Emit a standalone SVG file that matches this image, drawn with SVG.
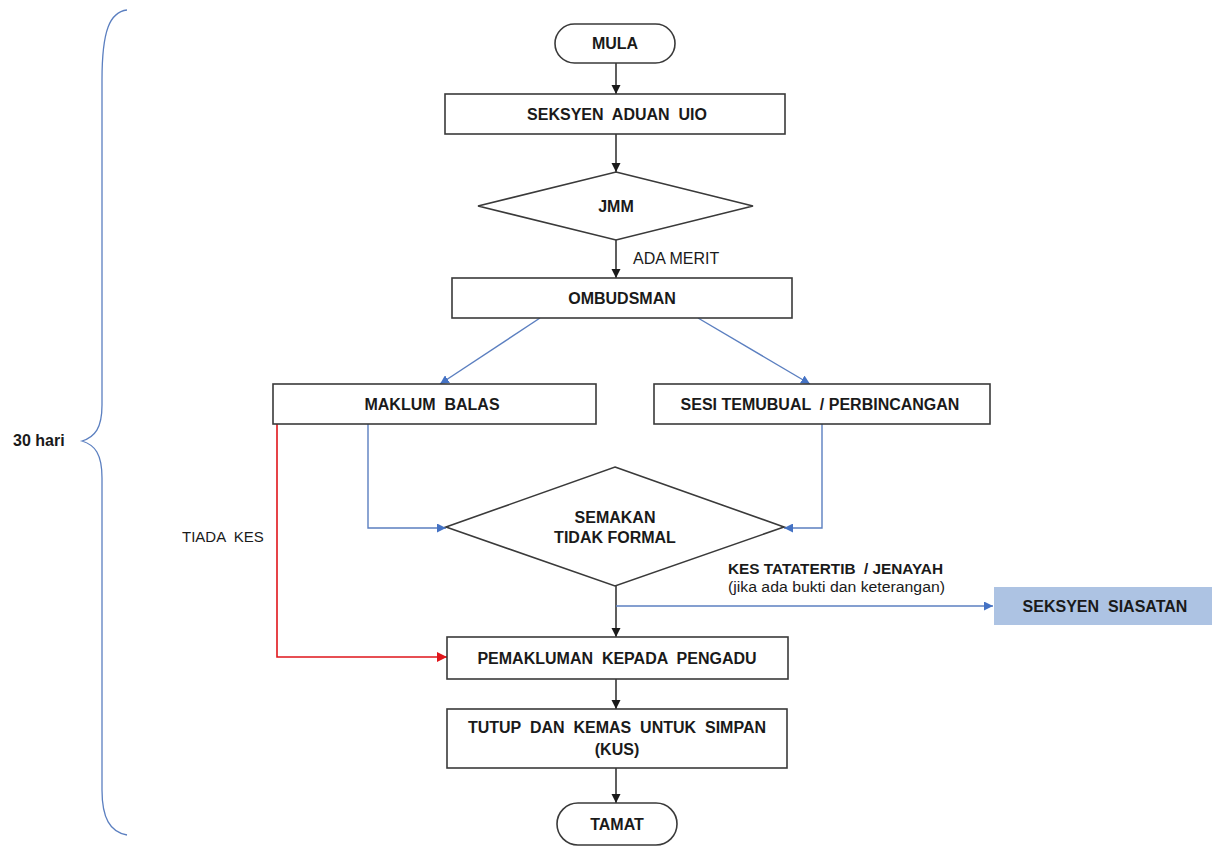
<svg xmlns="http://www.w3.org/2000/svg" width="1212" height="848" viewBox="0 0 1212 848">
<style>
.box{fill:#ffffff;stroke:#3a3a3a;stroke-width:1.6}
.t{font-family:"Liberation Sans",Arial,sans-serif;font-weight:bold;font-size:16px;fill:#1a1a1a;text-anchor:middle}
.r{font-family:"Liberation Sans",Arial,sans-serif;font-size:15px;fill:#1a1a1a}
.bk{fill:none;stroke:#1a1a1a;stroke-width:1.4}
.bl{fill:none;stroke:#5b7fc0;stroke-width:1.4}
.rd{fill:none;stroke:#e0161b;stroke-width:1.6}
</style>
<defs>
<marker id="ak" viewBox="0 0 10 10" refX="10" refY="5" markerWidth="9" markerHeight="10" markerUnits="userSpaceOnUse" orient="auto"><path d="M0,0 L10,5 L0,10 z" fill="#1a1a1a"/></marker>
<marker id="ab" viewBox="0 0 10 10" refX="10" refY="5" markerWidth="9" markerHeight="9" markerUnits="userSpaceOnUse" orient="auto"><path d="M0,0 L10,5 L0,10 z" fill="#4472c4"/></marker>
<marker id="ar" viewBox="0 0 10 10" refX="10" refY="5" markerWidth="10" markerHeight="10" markerUnits="userSpaceOnUse" orient="auto"><path d="M0,0 L10,5 L0,10 z" fill="#e0161b"/></marker>
</defs>

<g id="brace">
<path d="M127,10 C110,12 102,30 102,80 L102,405 C102,428 95,437 82,441 C95,445 102,454 102,478 L102,790 C102,818 110,832 127,835" fill="none" stroke="#5b7fc0" stroke-width="1.3"/>
<text x="13" y="446" font-family="Liberation Sans, Arial, sans-serif" font-weight="bold" font-size="16" fill="#1a1a1a">30 hari</text>
</g>

<g id="connectors">
<line class="bk" x1="616" y1="63" x2="616" y2="94" marker-end="url(#ak)"/>
<line class="bk" x1="616" y1="134" x2="616" y2="172" marker-end="url(#ak)"/>
<line class="bk" x1="616" y1="240" x2="616" y2="278" marker-end="url(#ak)"/>
<text class="r" x="633" y="264" style="font-size:16px">ADA MERIT</text>
<line class="bl" x1="540" y1="318" x2="440" y2="384" marker-end="url(#ab)"/>
<line class="bl" x1="698" y1="318" x2="810" y2="384" marker-end="url(#ab)"/>
<polyline class="bl" points="368,424 368,528 446,528" marker-end="url(#ab)"/>
<polyline class="bl" points="822,424 822,528 784,528" marker-end="url(#ab)"/>
<polyline class="rd" points="277,424 277,657 447,657" marker-end="url(#ar)"/>
<text class="r" x="182" y="542" xml:space="preserve">TIADA  KES</text>
<line class="bk" x1="616" y1="586" x2="616" y2="637" marker-end="url(#ak)"/>
<line class="bl" x1="616" y1="606" x2="993" y2="606" marker-end="url(#ab)"/>
<text x="728" y="574" font-family="Liberation Sans, Arial, sans-serif" font-weight="bold" font-size="14" fill="#1a1a1a" textLength="215" lengthAdjust="spacingAndGlyphs" xml:space="preserve">KES TATATERTIB  / JENAYAH</text>
<text x="728" y="592" font-family="Liberation Sans, Arial, sans-serif" font-size="14" fill="#1a1a1a" textLength="217" lengthAdjust="spacingAndGlyphs">(jika ada bukti dan keterangan)</text>
<line class="bk" x1="616" y1="679" x2="616" y2="709" marker-end="url(#ak)"/>
<line class="bk" x1="616" y1="768" x2="616" y2="803" marker-end="url(#ak)"/>
</g>

<g id="mula">
<rect class="box" x="555" y="24" width="120" height="39" rx="19.5"/>
<text class="t" x="615" y="49">MULA</text>
</g>

<g id="seksyen-aduan">
<rect class="box" x="445" y="94" width="340" height="40"/>
<text class="t" x="617" y="120" xml:space="preserve">SEKSYEN  ADUAN  UIO</text>
</g>

<g id="jmm">
<polygon class="box" points="616,172 753,206 616,240 478,206"/>
<text class="t" x="616" y="212">JMM</text>
</g>

<g id="ombudsman">
<rect class="box" x="452" y="278" width="340" height="40"/>
<text class="t" x="622" y="304">OMBUDSMAN</text>
</g>

<g id="maklum-balas">
<rect class="box" x="273" y="384" width="323" height="40"/>
<text class="t" x="432" y="410" xml:space="preserve">MAKLUM  BALAS</text>
</g>

<g id="sesi-temubual">
<rect class="box" x="654" y="384" width="336" height="40"/>
<text class="t" x="820" y="410" xml:space="preserve">SESI TEMUBUAL  / PERBINCANGAN</text>
</g>

<g id="semakan">
<polygon class="box" points="615,467 784,527 615,586 446,527"/>
<text class="t" x="615" y="523">SEMAKAN</text>
<text class="t" x="615" y="543">TIDAK FORMAL</text>
</g>

<g id="seksyen-siasatan">
<rect x="994" y="587" width="218" height="38" fill="#adc3e3"/>
<text class="t" x="1105" y="612" xml:space="preserve">SEKSYEN  SIASATAN</text>
</g>

<g id="pemakluman">
<rect class="box" x="447" y="637" width="341" height="42"/>
<text class="t" x="617" y="664" xml:space="preserve">PEMAKLUMAN  KEPADA  PENGADU</text>
</g>

<g id="tutup">
<rect class="box" x="447" y="709" width="340" height="59"/>
<text class="t" x="617" y="733" xml:space="preserve">TUTUP  DAN  KEMAS  UNTUK  SIMPAN</text>
<text class="t" x="617" y="755">(KUS)</text>
</g>

<g id="tamat">
<rect class="box" x="557" y="803" width="120" height="42" rx="21"/>
<text class="t" x="617" y="830">TAMAT</text>
</g>
</svg>
